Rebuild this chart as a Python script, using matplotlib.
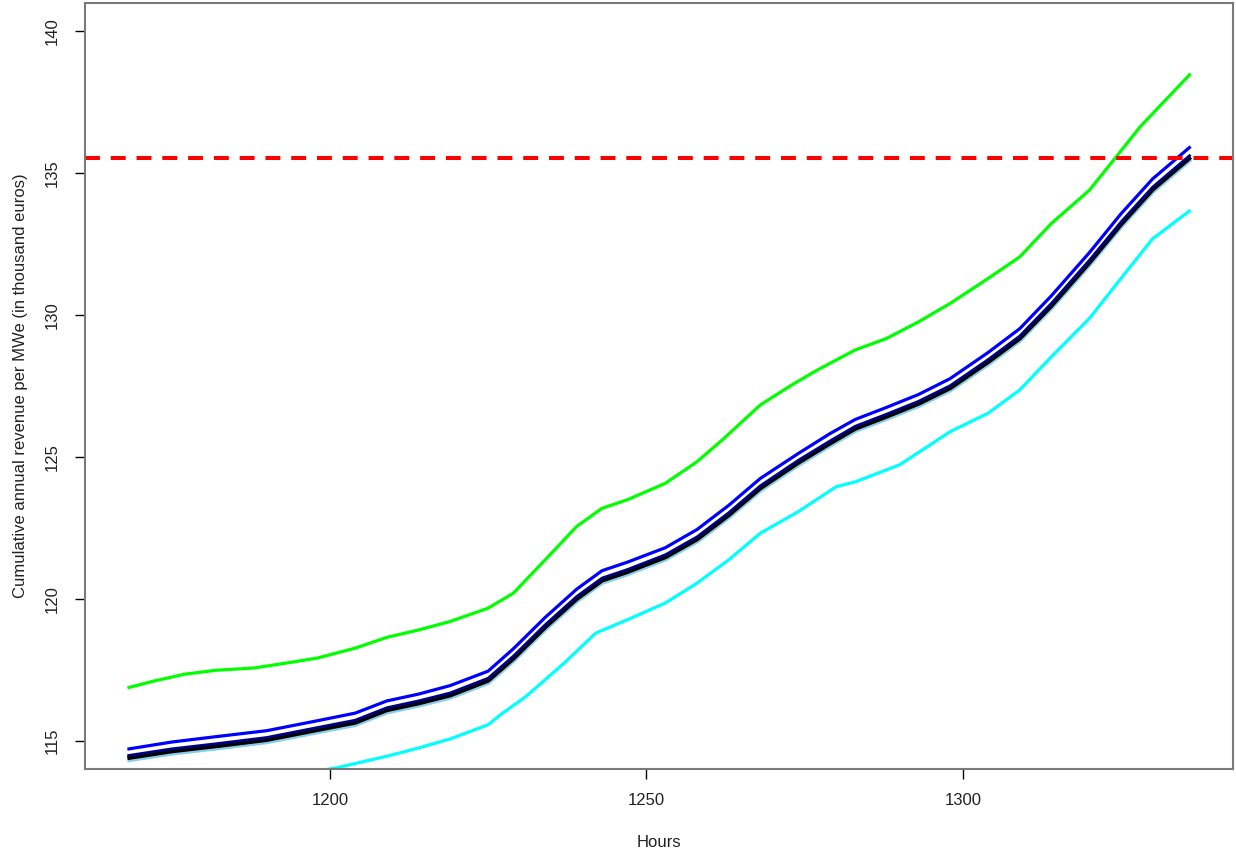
import matplotlib
matplotlib.use("Agg")
import matplotlib.pyplot as plt

plt.rcParams['font.family'] = ['Liberation Sans', 'DejaVu Sans']

# central bundle (black / navy / blue / skyblue) on a shared hour grid
hours = [1168, 1175, 1182, 1190, 1198, 1204, 1209, 1214, 1219, 1225, 1229,
         1234, 1239, 1243, 1247, 1253, 1258, 1263, 1268, 1274, 1279, 1283,
         1288, 1293, 1298, 1304, 1309, 1314, 1320, 1325, 1330, 1336]
black_rev = [114.39, 114.63, 114.81, 115.03, 115.38, 115.64, 116.08, 116.32,
             116.60, 117.12, 117.90, 119.00, 120.00, 120.65, 120.95, 121.47,
             122.10, 122.95, 123.90, 124.80, 125.48, 126.00, 126.43, 126.88,
             127.43, 128.35, 129.18, 130.33, 131.85, 133.20, 134.43, 135.57]
navy_rev = [114.47, 114.71, 114.89, 115.11, 115.46, 115.72, 116.16, 116.40,
            116.68, 117.20, 117.98, 119.08, 120.08, 120.73, 121.03, 121.55,
            122.18, 123.03, 123.98, 124.88, 125.56, 126.08, 126.51, 126.96,
            127.51, 128.43, 129.26, 130.41, 131.93, 133.28, 134.51, 135.65]
blue_rev = [114.70, 114.95, 115.14, 115.35, 115.70, 115.97, 116.40, 116.64,
            116.94, 117.45, 118.24, 119.34, 120.34, 120.99, 121.29, 121.80,
            122.44, 123.29, 124.24, 125.12, 125.82, 126.32, 126.75, 127.20,
            127.76, 128.68, 129.52, 130.68, 132.20, 133.57, 134.80, 135.94]
sky_rev = [114.32, 114.56, 114.74, 114.96, 115.31, 115.57, 116.01, 116.25,
           116.53, 117.05, 117.83, 118.93, 119.93, 120.58, 120.88, 121.40,
           122.03, 122.88, 123.83, 124.73, 125.41, 125.93, 126.36, 126.81,
           127.36, 128.28, 129.11, 130.26, 131.78, 133.13, 134.36, 135.50]

# upper (green) curve
green_hours = [1168, 1172, 1177, 1182, 1188, 1193, 1198, 1204, 1209, 1214,
               1219, 1225, 1229, 1234, 1239, 1243, 1247, 1253, 1258, 1262,
               1268, 1273, 1277, 1283, 1288, 1293, 1298, 1304, 1309, 1314,
               1320, 1324, 1328, 1336]
green_rev = [116.86, 117.09, 117.34, 117.48, 117.56, 117.73, 117.91, 118.26,
             118.64, 118.90, 119.20, 119.67, 120.20, 121.37, 122.55, 123.19,
             123.49, 124.07, 124.83, 125.60, 126.83, 127.54, 128.06, 128.77,
             129.18, 129.76, 130.41, 131.29, 132.05, 133.23, 134.40, 135.51,
             136.63, 138.51]

# lower (cyan) curve
cyan_hours = [1168, 1175, 1183, 1190, 1196, 1201, 1209, 1214, 1219, 1225,
              1227, 1231, 1237, 1242, 1247, 1253, 1258, 1263, 1268, 1274,
              1280, 1283, 1290, 1294, 1298, 1304, 1309, 1314, 1320, 1325,
              1330, 1336]
cyan_rev = [112.95, 113.20, 113.45, 113.65, 113.85, 114.04, 114.45, 114.74,
            115.06, 115.56, 115.92, 116.56, 117.73, 118.79, 119.26, 119.85,
            120.55, 121.37, 122.31, 123.07, 123.95, 124.12, 124.72, 125.30,
            125.89, 126.54, 127.36, 128.53, 129.88, 131.29, 132.69, 133.70]

threshold = 135.53

fig = plt.figure(figsize=(12.36, 8.57), dpi=100)
ax = fig.add_axes([85 / 1236, 88 / 857, 1148 / 1236, 766 / 857])

style = dict(solid_joinstyle='round', solid_capstyle='butt')
ax.plot(green_hours, green_rev, color='#00FF00', lw=2.3, **style)
ax.plot(cyan_hours, cyan_rev, color='#00FFFF', lw=2.3, **style)
ax.plot(hours, sky_rev, color='#87CEEB', lw=3.6, **style)
ax.plot(hours, black_rev, color='black', lw=3.2, **style)
ax.plot(hours, navy_rev, color='#000080', lw=2.0, **style)
ax.plot(hours, blue_rev, color='#0000FF', lw=2.3, **style)
ax.axhline(threshold, color='#FF0000', lw=2.9, linestyle=(0, (3.7, 2.7)),
           dash_capstyle='butt')

ax.set_xlim(1161.3, 1342.7)
ax.set_ylim(114, 141)
ax.set_xticks([1200, 1250, 1300])
ax.set_yticks([115, 120, 125, 130, 135, 140])
for s in ax.spines.values():
    s.set_color('#7a7a7a')
    s.set_linewidth(1.5)
ax.tick_params(axis='both', length=7, width=1, color='black',
               labelsize=12, labelcolor='#222222')
ax.tick_params(axis='x', pad=10)
ax.tick_params(axis='y', pad=11)
for lbl in ax.get_yticklabels():
    lbl.set_rotation(90)
    lbl.set_va('center')

ax.set_xlabel('Hours', fontsize=12, color='#222222', labelpad=20)
ax.set_ylabel('Cumulative annual revenue per MWe (in thousand euros)',
              fontsize=12, color='#222222', labelpad=12)

fig.savefig('out.png', dpi=100)
